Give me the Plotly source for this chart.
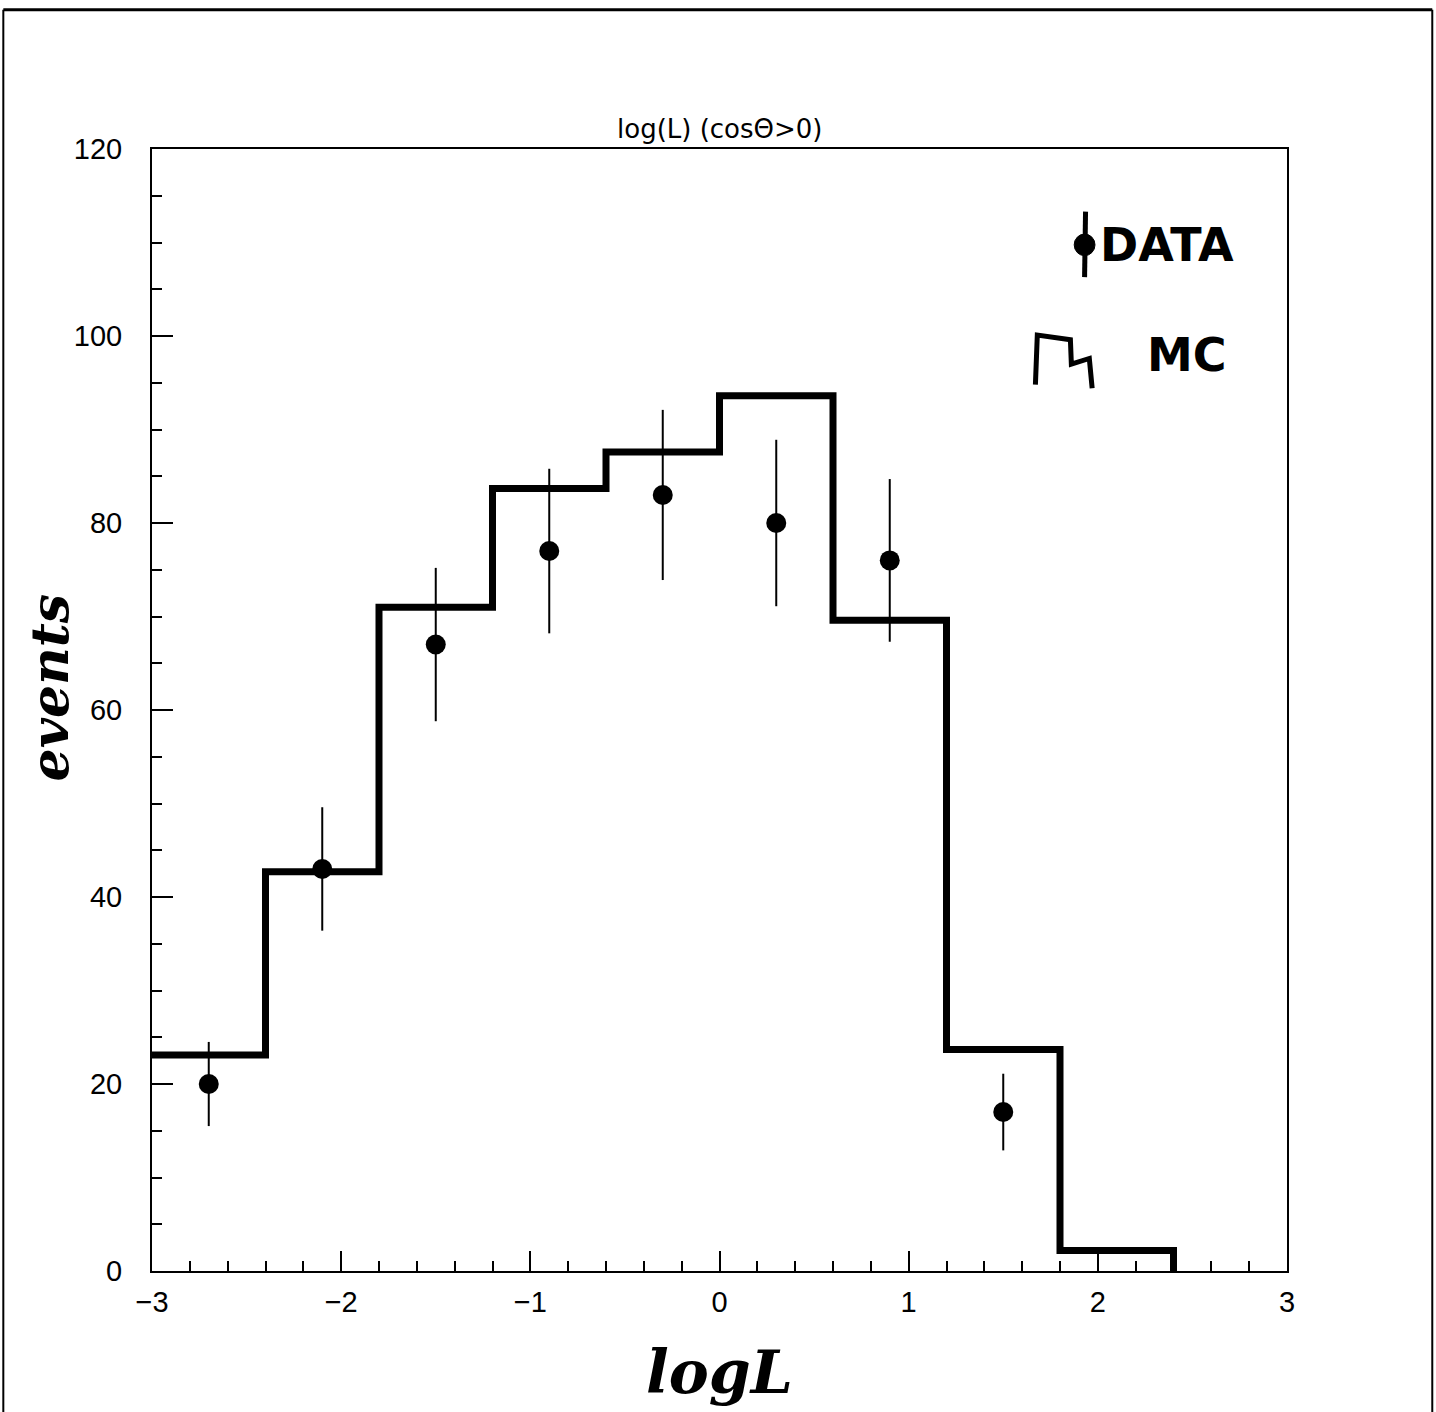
import plotly.graph_objects as go

# ---- data ----
bin_edges = [-3.0, -2.4, -1.8, -1.2, -0.6, 0.0, 0.6, 1.2, 1.8, 2.4]
mc_counts = [23.1, 42.7, 71.0, 83.7, 87.6, 93.6, 69.6, 23.7, 2.2]
data_x = [-2.7, -2.1, -1.5, -0.9, -0.3, 0.3, 0.9, 1.5]
data_y = [20, 43, 67, 77, 83, 80, 76, 17]
data_err = [4.5, 6.6, 8.2, 8.8, 9.1, 8.9, 8.7, 4.1]

x_tick_vals = [-3, -2, -1, 0, 1, 2, 3]
y_tick_vals = [0, 20, 40, 60, 80, 100, 120]

title_text = "log(L) (cosΘ>0)"
x_title = "logL"
y_title = "events"

fig = go.Figure()

# MC histogram as a step line
fig.add_trace(go.Scatter(
    x=bin_edges,
    y=mc_counts + [0],
    mode="lines",
    line=dict(shape="hv", color="black", width=7),
    cliponaxis=False,
    showlegend=False,
))

# data points with sqrt(N) error bars
fig.add_trace(go.Scatter(
    x=data_x,
    y=data_y,
    mode="markers",
    marker=dict(color="black", size=20),
    error_y=dict(type="data", array=data_err, visible=True,
                 color="black", thickness=2, width=0),
    showlegend=False,
))

# hand-drawn legend
fig.add_shape(type="line", x0=1.93, x1=1.935, y0=106.3, y1=113.3,
              line=dict(color="black", width=5))
fig.add_shape(type="circle", x0=1.875, x1=1.985, y0=108.6, y1=110.9,
              fillcolor="black", line=dict(color="black", width=1))
fig.add_annotation(x=2.0, y=109.7, xref="x", yref="y", text="<b>DATA</b>",
                   showarrow=False, xanchor="left", yanchor="middle",
                   font=dict(family="DejaVu Sans", size=46, color="black"))
fig.add_shape(type="path",
              path="M 1.67,94.8 L 1.68,100.1 L 1.855,99.6 L 1.86,97.0 L 1.955,97.6 L 1.97,94.4",
              line=dict(color="black", width=5))
fig.add_annotation(x=2.25, y=98.0, xref="x", yref="y", text="<b>MC</b>",
                   showarrow=False, xanchor="left", yanchor="middle",
                   font=dict(family="DejaVu Sans", size=46, color="black"))

# title above plot
fig.add_annotation(x=0.5, y=1.0, xref="paper", yref="paper", text=title_text,
                   showarrow=False, xanchor="center", yanchor="bottom", yshift=3,
                   font=dict(family="DejaVu Sans", size=26, color="black"))

# handwritten axis titles
fig.add_annotation(x=0.5, y=-0.09, xref="paper", yref="paper", text="<b><i>" + x_title + "</i></b>",
                   showarrow=False, xanchor="center", yanchor="middle",
                   font=dict(family="DejaVu Serif", size=60, color="black"))
fig.add_annotation(x=-0.09, y=0.52, xref="paper", yref="paper", text="<b><i>" + y_title + "</i></b>",
                   showarrow=False, xanchor="center", yanchor="middle", textangle=-90,
                   font=dict(family="DejaVu Serif", size=52, color="black"))

# scanned page border
fig.add_shape(type="line", xref="paper", yref="paper", x0=-0.131, x1=1.128, y0=1.124, y1=1.124,
              line=dict(color="black", width=3))
fig.add_shape(type="line", xref="paper", yref="paper", x0=-0.131, x1=-0.131, y0=1.124, y1=-0.14,
              line=dict(color="black", width=2))
fig.add_shape(type="line", xref="paper", yref="paper", x0=1.128, x1=1.128, y0=1.124, y1=-0.14,
              line=dict(color="black", width=2))

fig.update_layout(
    width=1436, height=1412,
    margin=dict(l=152, r=149, t=149, b=141),
    paper_bgcolor="white", plot_bgcolor="white",
    font=dict(family="Liberation Sans", color="black"),
    showlegend=False,
)

fig.update_xaxes(
    range=[-3, 3], tickvals=x_tick_vals,
    ticks="inside", ticklen=20, tickwidth=2, tickcolor="black",
    minor=dict(dtick=0.2, ticks="inside", ticklen=10, tickwidth=2, tickcolor="black"),
    showline=True, linecolor="black", linewidth=2, mirror=True,
    showgrid=False, zeroline=False,
    tickfont=dict(family="Liberation Sans", size=29, color="black"),
    ticklabelstandoff=4,
)
fig.update_yaxes(
    range=[0, 120], tickvals=y_tick_vals,
    ticks="inside", ticklen=21, tickwidth=2, tickcolor="black",
    minor=dict(dtick=5, ticks="inside", ticklen=10, tickwidth=2, tickcolor="black"),
    showline=True, linecolor="black", linewidth=2, mirror=True,
    showgrid=False, zeroline=False,
    tickfont=dict(family="Liberation Sans", size=29, color="black"),
    ticklabelstandoff=22,
)

fig.write_html("out.html")
